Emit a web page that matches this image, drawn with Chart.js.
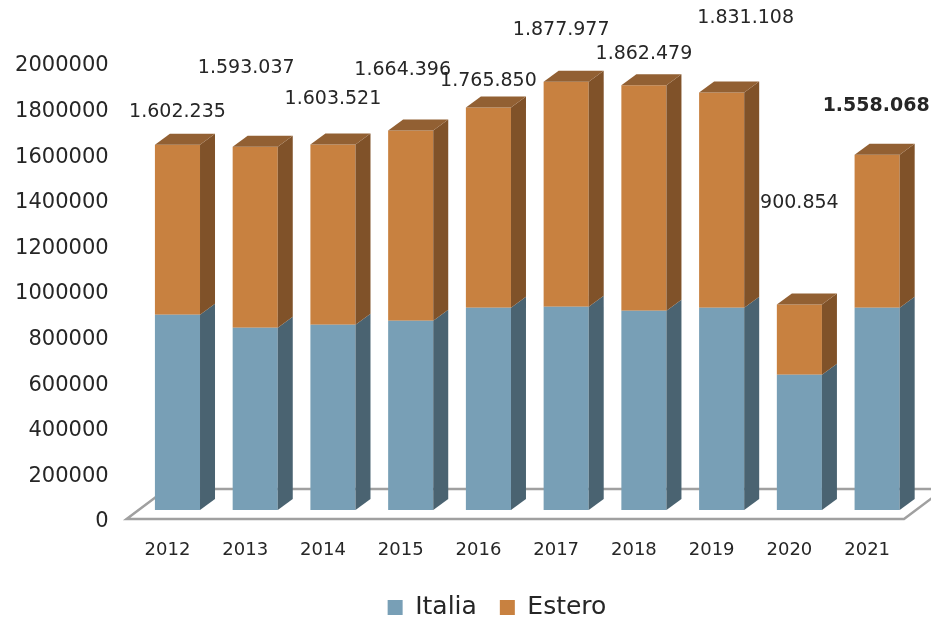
<!DOCTYPE html>
<html>
<head>
<meta charset="utf-8">
<script src="https://cdn.jsdelivr.net/npm/chart.js@4.4.0/dist/chart.umd.min.js"></script>
<style>
  html, body { margin: 0; padding: 0; background: #fff; }
  canvas { display: block; }
</style>
</head>
<body>
<canvas id="visitorsChart" width="931" height="621"></canvas>
<script>
// Presenze per anno, Italia / Estero
const years = ['2012', '2013', '2014', '2015', '2016', '2017', '2018', '2019', '2020', '2021'];
const italia = [856000, 799000, 812000, 830000, 887000, 891000, 874000, 887000, 593000, 887000];
const estero = [746235, 794037, 791521, 834396, 878850, 986977, 988479, 944108, 307854, 671068];
const totals = [1602235, 1593037, 1603521, 1664396, 1765850, 1877977, 1862479, 1831108, 900854, 1558068];
const yTicks = [0, 200000, 400000, 600000, 800000, 1000000, 1200000, 1400000, 1600000, 1800000, 2000000];

// label nudges (px) from the top of each column
const labelNudge = [[0, -33], [-9, -79], [0, -45], [-8, -60], [0, -26], [-5, -52], [0, -31], [24, -74], [0, -102], [-1, -49]];

const FONT = "'DejaVu Sans', sans-serif";
const TEXT = '#262626';
const DEPTH = { dx: 15, dy: -11 };
const sideColors = ['#4a6371', '#805229'];
const topColor = '#926033';

const fmt = n => String(n).replace(/\B(?=(\d{3})+(?!\d))/g, '.');

function poly(ctx, pts, fill) {
    ctx.beginPath();
    ctx.moveTo(pts[0][0], pts[0][1]);
    for (let i = 1; i < pts.length; i++) ctx.lineTo(pts[i][0], pts[i][1]);
    ctx.closePath();
    ctx.fillStyle = fill;
    ctx.fill();
}

// floor plane under the columns
const floorPlugin = {
    id: 'floor',
    beforeDatasetsDraw(chart) {
        const { ctx, chartArea } = chart;
        const y0 = chart.scales.y.getPixelForValue(0);
        const fl = chartArea.left - 12, fr = chartArea.right - 12, fy = y0 + 9;
        ctx.save();
        ctx.beginPath();
        ctx.moveTo(fl, fy);
        ctx.lineTo(fr, fy);
        ctx.lineTo(fr + 40, fy - 30);
        ctx.lineTo(fl + 40, fy - 30);
        ctx.closePath();
        ctx.fillStyle = '#ffffff';
        ctx.fill();
        ctx.lineWidth = 2.5;
        ctx.strokeStyle = '#a0a0a0';
        ctx.stroke();
        ctx.restore();
    }
};

// side and top faces, then the total above each column
const columnsPlugin = {
    id: 'columns3d',
    afterDatasetsDraw(chart) {
        const ctx = chart.ctx;
        const last = chart.data.datasets.length - 1;
        ctx.save();
        chart.data.datasets.forEach((ds, di) => {
            chart.getDatasetMeta(di).data.forEach(bar => {
                const r = bar.x + bar.width / 2, l = bar.x - bar.width / 2;
                const top = bar.y, bottom = bar.base;
                poly(ctx, [[r, bottom], [r + DEPTH.dx, bottom + DEPTH.dy], [r + DEPTH.dx, top + DEPTH.dy], [r, top]], sideColors[di]);
                if (di === last) {
                    poly(ctx, [[l, top], [r, top], [r + DEPTH.dx, top + DEPTH.dy], [l + DEPTH.dx, top + DEPTH.dy]], topColor);
                }
            });
        });

        ctx.fillStyle = TEXT;
        ctx.textAlign = 'center';
        ctx.textBaseline = 'middle';
        chart.getDatasetMeta(last).data.forEach((bar, i) => {
            ctx.font = (i === totals.length - 1 ? 'bold ' : '') + '19px ' + FONT;
            ctx.fillText(fmt(totals[i]), bar.x + labelNudge[i][0], bar.y + labelNudge[i][1]);
        });
        ctx.restore();
    }
};

// legend sits a little right of centre and low in the frame
const legendNudge = {
    id: 'legendNudge',
    afterLayout(chart) {
        const lg = chart.legend;
        lg.left += 39;
        lg.right += 39;
        lg.top += 9;
        lg.bottom += 9;
    }
};

new Chart(document.getElementById('visitorsChart').getContext('2d'), {
    type: 'bar',
    data: {
        labels: years,
        datasets: [{
            label: 'Italia',
            data: italia,
            backgroundColor: '#789fb6',
            borderWidth: 0
        }, {
            label: 'Estero',
            data: estero,
            backgroundColor: '#c88140',
            borderWidth: 0
        }]
    },
    options: {
        responsive: false,
        animation: false,
        categoryPercentage: 1,
        barPercentage: 0.58,
        layout: {
            padding: { top: 54, right: 15, left: 0, bottom: 0 }
        },
        plugins: {
            tooltip: { enabled: false },
            legend: {
                position: 'bottom',
                labels: {
                    boxWidth: 15,
                    boxHeight: 15,
                    padding: 23,
                    color: TEXT,
                    font: { family: FONT, size: 25 }
                }
            }
        },
        scales: {
            x: {
                stacked: true,
                grid: { display: false },
                border: { display: false },
                ticks: {
                    color: TEXT,
                    font: { family: FONT, size: 18 },
                    padding: 22,
                    labelOffset: -10,
                    maxRotation: 0,
                    autoSkip: false
                },
                afterFit(scale) { scale.height = 53; }
            },
            y: {
                stacked: true,
                min: 0,
                max: 2000000,
                grid: { display: false, drawTicks: false },
                border: { display: false },
                afterBuildTicks(scale) { scale.ticks = yTicks.map(v => ({ value: v })); },
                ticks: {
                    color: TEXT,
                    font: { family: FONT, size: 21 },
                    padding: 30,
                    labelOffset: 12,
                    callback: v => String(v)
                },
                afterFit(scale) { scale.width = 138.6; }
            }
        }
    },
    plugins: [floorPlugin, columnsPlugin, legendNudge]
});
</script>
</body>
</html>
